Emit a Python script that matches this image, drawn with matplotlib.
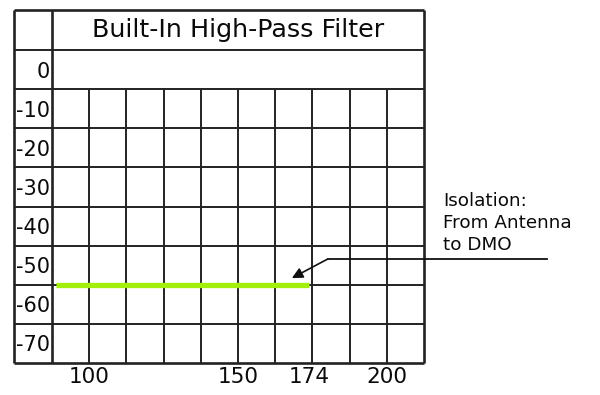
import matplotlib
matplotlib.use("Agg")
import matplotlib.pyplot as plt

# ---- data ----
title = "Built-In High-Pass Filter"
y_levels = [0, -10, -20, -30, -40, -50, -60, -70]
y_labels = ["0", "-10", "-20", "-30", "-40", "-50", "-60", "-70"]
x_tick_values = [100, 150, 174, 200]
x_tick_labels = ["100", "150", "174", "200"]
freq = [89, 174]
isolation = [-55, -55]
annotation_text = "Isolation:\nFrom Antenna\nto DMO"

plt.rcParams['font.family'] = ['DejaVu Sans']

fig = plt.figure(figsize=(6, 3.95), dpi=100)
W, H = 600, 395
ax = fig.add_axes([52 / W, (H - 363) / H, (424 - 52) / W, (363 - 50) / H])

x0, x1 = 87.5, 212.5
y0, y1 = -75, 5
ax.set_xlim(x0, x1)
ax.set_ylim(y0, y1)
for s in ax.spines.values():
    s.set_visible(False)

col_w = 12.5
x_left = x0 - 38 / 372 * (x1 - x0)
y_top = y1 + 40 / 313 * (y1 - y0)

gc = '#222222'
lw_in = 1.4
lw_out = 1.9

# horizontal lines
row_edges = [5, -5, -15, -25, -35, -45, -55, -65]
ax.hlines(row_edges, x_left, x1, colors=gc, linewidth=lw_in, clip_on=False, zorder=2)
ax.hlines([y_top, y0], x_left, x1, colors=gc, linewidth=lw_out, clip_on=False, zorder=2)
# vertical lines
inner_cols = [x0 + col_w * k for k in range(1, 10)]
ax.vlines(inner_cols, y0, -5, colors=gc, linewidth=lw_in, clip_on=False, zorder=2)
ax.vlines([x0], y0, y_top, colors=gc, linewidth=lw_out, clip_on=False, zorder=2)
ax.vlines([x_left, x1], y0, y_top, colors=gc, linewidth=lw_out, clip_on=False, zorder=2)

# title in top row
ax.text((x0 + x1) / 2, (y1 + y_top) / 2, title, ha='center', va='center',
        fontsize=18.3, color='#0a0a0a')

# ticks
ax.set_yticks(y_levels)
ax.set_yticklabels(y_labels)
ax.set_xticks(x_tick_values)
ax.set_xticklabels(x_tick_labels)
ax.tick_params(axis='y', length=0, pad=1.5, labelsize=15, labelcolor='#0a0a0a')
ax.tick_params(axis='x', length=0, pad=3, labelsize=15.5, labelcolor='#0a0a0a')

# series
ax.plot(freq, isolation, color='#a2ef0c', linewidth=3.8, solid_capstyle='butt',
        zorder=3, clip_on=False)

# annotation
tail = (180.2, -48.4)
tip = (168.1, -53.3)
ax.annotate("", xy=tip, xytext=tail,
            arrowprops=dict(arrowstyle='-|>', color='#111111', lw=1.2,
                            mutation_scale=16, shrinkA=0, shrinkB=0),
            annotation_clip=False, zorder=4)
ax.plot([tail[0], 253.8], [tail[1], tail[1]], color='#111111', linewidth=1.3,
        clip_on=False, zorder=4)
ax.text(218.9, -31.3, annotation_text, ha='left', va='top', fontsize=13.2,
        linespacing=1.3, color='#0a0a0a', clip_on=False)

fig.savefig("out.png", dpi=100)
